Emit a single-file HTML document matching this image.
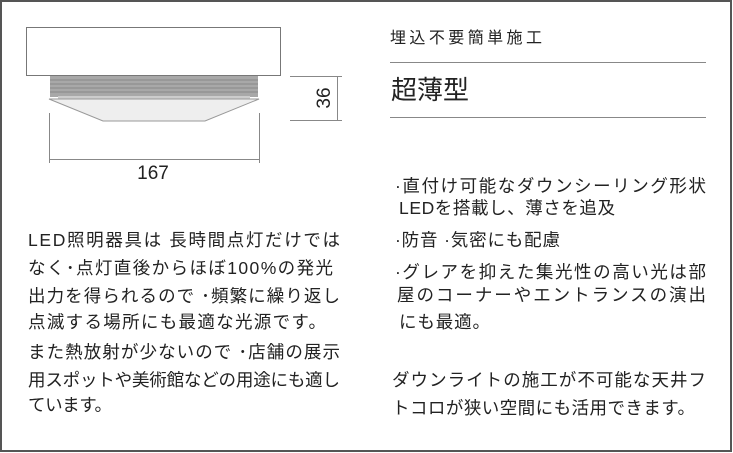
<!DOCTYPE html>
<html><head><meta charset="utf-8"><style>
html,body{margin:0;padding:0;background:#fff}
svg{display:block}
text{font-family:"Liberation Sans","Noto Sans CJK JP",sans-serif;fill:#222;font-size:17.5px}
</style></head><body>
<svg width="733" height="453" viewBox="0 0 733 453" xmlns="http://www.w3.org/2000/svg">
<rect x="1" y="1" width="730" height="450" fill="#fff" stroke="#555" stroke-width="2"/>
<rect x="26.5" y="27.5" width="254" height="48" fill="#fff" stroke="#777" stroke-width="1"/>
<rect x="50" y="76" width="208" height="21" fill="#a8a8a8"/>
<g stroke="#888" stroke-width="1">
<line x1="50" y1="80" x2="258" y2="80"/><line x1="50" y1="84" x2="258" y2="84"/>
<line x1="50" y1="88" x2="258" y2="88"/><line x1="50" y1="92" x2="258" y2="92"/>
</g>
<rect x="58" y="96" width="192" height="4" fill="#ccc"/>
<polygon points="49,99 259,99 205,121 103,121" fill="#eee" stroke="#999" stroke-width="1"/>
<g stroke="#888" stroke-width="1" fill="none">
<line x1="49.5" y1="113" x2="49.5" y2="163"/>
<line x1="259.5" y1="113" x2="259.5" y2="163"/>
<line x1="49" y1="159.5" x2="260" y2="159.5"/>
<line x1="290" y1="76.5" x2="342" y2="76.5"/>
<line x1="290" y1="120.5" x2="342" y2="120.5"/>
<line x1="337.5" y1="76" x2="337.5" y2="121"/>
</g>
<text x="153" y="179" text-anchor="middle" style="font-size:19px">167</text>
<text transform="translate(330,98) rotate(-90)" text-anchor="middle" style="font-size:19px">36</text>
<text x="390" y="43" style="font-size:16px" textLength="152" lengthAdjust="spacing">埋込不要簡単施工</text>
<line x1="390" y1="62.5" x2="706" y2="62.5" stroke="#888"/>
<text x="391" y="99" style="font-size:26px">超薄型</text>
<line x1="390" y1="117.5" x2="706" y2="117.5" stroke="#888"/>
<text x="395" y="192" textLength="311" lengthAdjust="spacing">·直付け可能なダウンシーリング形状</text>
<text x="399" y="214" textLength="216" lengthAdjust="spacing">LEDを搭載し、薄さを追及</text>
<text x="395" y="246" textLength="165" lengthAdjust="spacing">·防音 ·気密にも配慮</text>
<text x="395" y="278" textLength="311" lengthAdjust="spacing">·グレアを抑えた集光性の高い光は部</text>
<text x="397" y="301" textLength="309" lengthAdjust="spacing">屋のコーナーやエントランスの演出</text>
<text x="399" y="328" textLength="91" lengthAdjust="spacing">にも最適。</text>
<text x="392" y="386" textLength="314" lengthAdjust="spacing">ダウンライトの施工が不可能な天井フ</text>
<text x="392" y="414" textLength="303" lengthAdjust="spacing">トコロが狭い空間にも活用できます。</text>
<text x="28" y="246" textLength="312" lengthAdjust="spacing">LED照明器具は 長時間点灯だけでは</text>
<text x="28" y="274" textLength="305" lengthAdjust="spacing">なく･点灯直後からほぼ100%の発光</text>
<text x="28" y="302" textLength="312" lengthAdjust="spacing">出力を得られるので ･頻繁に繰り返し</text>
<text x="28" y="328" textLength="298" lengthAdjust="spacing">点滅する場所にも最適な光源です。</text>
<text x="28" y="358" textLength="312" lengthAdjust="spacing">また熱放射が少ないので ･店舗の展示</text>
<text x="28" y="386" textLength="312" lengthAdjust="spacing">用スポットや美術館などの用途にも適し</text>
<text x="28" y="411" textLength="84" lengthAdjust="spacing">ています。</text>
</svg>
</body></html>
